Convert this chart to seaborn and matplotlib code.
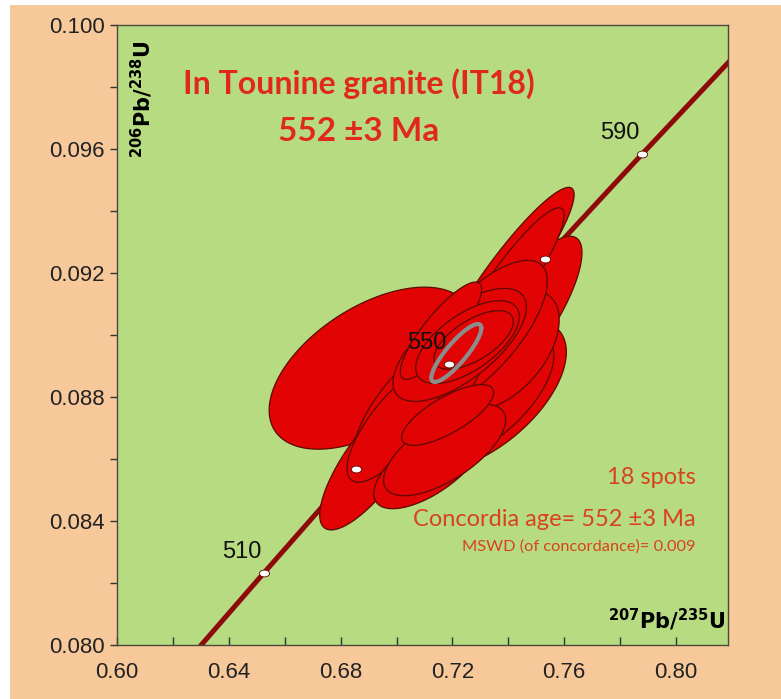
import numpy as np
import pandas as pd
import matplotlib
matplotlib.use("Agg")
import matplotlib.pyplot as plt
import seaborn as sns
from matplotlib.patches import Rectangle
from matplotlib.ticker import MultipleLocator
from matplotlib.markers import MarkerStyle
from matplotlib.transforms import Affine2D

# ---------------- data ----------------
# concordia ages (Ma) and ratios
conc_age = [490, 510, 530, 550, 570, 590, 610]
conc_x = [0.6202, 0.6526, 0.6854, 0.7189, 0.7531, 0.7879, 0.8235]   # 207Pb/235U
conc_y = [0.07897, 0.08233, 0.08569, 0.08906, 0.09245, 0.09584, 0.09925]  # 206Pb/238U
marker_ages = [510, 530, 550, 570, 590]
label_ages = [510, 550, 590]

# 18 spot error ellipses: centre, half extents in x / y, correlation
ell_cx = [0.6910, 0.7308, 0.7290, 0.6921, 0.7452, 0.7391, 0.7391, 0.7387,
          0.7290, 0.7082, 0.6993, 0.7226, 0.7159, 0.7118, 0.7172, 0.7183,
          0.7254, 0.7276]
ell_cy = [0.08893, 0.08806, 0.08800, 0.08600, 0.09052, 0.09181, 0.09148, 0.08952,
          0.08999, 0.08790, 0.08710, 0.08968, 0.09014, 0.08581, 0.08629, 0.08742,
          0.08977, 0.08984]
ell_ex = [0.03656, 0.02996, 0.02731, 0.01957, 0.02115, 0.02444, 0.02086, 0.01950,
          0.02494, 0.02351, 0.01699, 0.02387, 0.01455, 0.01993, 0.02183, 0.01645,
          0.01853, 0.01419]
ell_ey = [0.002613, 0.002439, 0.002207, 0.002287, 0.002665, 0.002952, 0.002623, 0.001920,
          0.002420, 0.002287, 0.001849, 0.001823, 0.001568, 0.001413, 0.001474, 0.000977,
          0.001336, 0.000945]
ell_rho = [0.52, 0.57, 0.61, 0.79, 0.80, 0.92, 0.91, 0.50,
           0.72, 0.73, 0.76, 0.67, 0.85, 0.66, 0.66, 0.74,
           0.62, 0.63]

# concordia age ellipse
age_cx, age_cy, age_ex, age_ey, age_rho = 0.7214, 0.08942, 0.00896, 0.000936, 0.86

title1 = "In Tounine granite (IT18)"
title2 = "552 \u00b13 Ma"
info1 = "18 spots"
info2 = "Concordia age= 552 \u00b13 Ma"
info3 = "MSWD (of concordance)= 0.009"

x_ticks = [0.60, 0.64, 0.68, 0.72, 0.76, 0.80]
y_ticks = [0.080, 0.084, 0.088, 0.092, 0.096, 0.100]

# ---------------- style ----------------
sns.set_theme(style="ticks")
plt.rcParams['font.family'] = ['Liberation Sans', 'DejaVu Sans']

PEACH = "#F6C89A"
GREEN = "#B7DB80"
RED = "#E20404"
EDGE = "#5A0A00"
LINE = "#8E0A0A"
TXT_RED = "#E0281C"
TXT_RED2 = "#D8421E"

fig = plt.figure(figsize=(7.81, 6.99), dpi=100)
fig.patch.set_facecolor("white")
fig.patches.append(Rectangle((10 / 781, 0), 1, 1 - 5 / 699, transform=fig.transFigure,
                             facecolor=PEACH, edgecolor="none", zorder=-10))
ax = fig.add_axes([117 / 781, 1 - 645 / 699, (728 - 117) / 781, (645 - 25) / 699])
ax.set_facecolor(GREEN)

# concordia curve
conc_df = pd.DataFrame({"age": conc_age, "x": conc_x, "y": conc_y})
sns.lineplot(data=conc_df, x="x", y="y", sort=False, color=LINE, lw=3.6, ax=ax, zorder=2)

# ellipses
t = np.linspace(0, 2 * np.pi, 200)
def ellipse_xy(cx, cy, ex, ey, rho):
    xs = cx + ex * np.cos(t)
    ys = cy + ey * (rho * np.cos(t) + np.sqrt(1 - rho ** 2) * np.sin(t))
    return xs, ys

for i in range(len(ell_cx)):
    xs, ys = ellipse_xy(ell_cx[i], ell_cy[i], ell_ex[i], ell_ey[i], ell_rho[i])
    ax.fill(xs, ys, facecolor=RED, edgecolor=EDGE, lw=0.9, zorder=3 + i * 0.01)

xs, ys = ellipse_xy(age_cx, age_cy, age_ex, age_ey, age_rho)
ax.plot(xs, ys, color="#8C8C8C", lw=3, zorder=4)

# age markers (slightly flattened white ellipses)
oval = MarkerStyle("o", transform=Affine2D().scale(1.35, 0.9))
mk = conc_df[conc_df["age"].isin(marker_ages)]
sns.scatterplot(data=mk, x="x", y="y", marker=oval, s=30, color="white",
                edgecolor=EDGE, linewidth=0.6, ax=ax, zorder=5)
for a in label_ages:
    r = conc_df[conc_df["age"] == a].iloc[0]
    ax.annotate(str(a), (r["x"], r["y"]), xytext=(-2, 7), textcoords="offset points",
                ha="right", va="bottom", fontsize=17, color="#111111", zorder=6)

# texts
ax.text(0.395, 0.905, title1, transform=ax.transAxes, ha="center", va="center",
        fontsize=23, fontweight="bold", color=TXT_RED, family=["Lato", "DejaVu Sans"])
ax.text(0.395, 0.828, title2, transform=ax.transAxes, ha="center", va="center",
        fontsize=24, fontweight="bold", color=TXT_RED, family=["Lato", "DejaVu Sans"])
ax.text(0.947, 0.270, info1, transform=ax.transAxes, ha="right", va="center",
        fontsize=17, color=TXT_RED2, family=["Lato", "DejaVu Sans"])
ax.text(0.947, 0.203, info2, transform=ax.transAxes, ha="right", va="center",
        fontsize=17, color=TXT_RED2, family=["Lato", "DejaVu Sans"])
ax.text(0.947, 0.158, info3, transform=ax.transAxes, ha="right", va="center",
        fontsize=11.8, color=TXT_RED2, family=["Lato", "DejaVu Sans"])

ax.text(0.04, 0.88, r"$\mathbf{^{206}Pb/^{238}U}$", transform=ax.transAxes, rotation=90,
        ha="center", va="center", fontsize=15, color="black")
ax.text(0.996, 0.04, r"$\mathbf{^{207}Pb/^{235}U}$", transform=ax.transAxes,
        ha="right", va="center", fontsize=15, color="black")

# axes
ax.set_xlim(0.60, 0.8186)
ax.set_ylim(0.080, 0.100)
ax.set_xticks(x_ticks)
ax.set_xticklabels([f"{v:.2f}" for v in x_ticks])
ax.set_yticks(y_ticks)
ax.set_yticklabels([f"{v:.3f}" for v in y_ticks])
ax.xaxis.set_minor_locator(MultipleLocator(0.02))
ax.yaxis.set_minor_locator(MultipleLocator(0.002))
ax.tick_params(axis="x", which="both", direction="in", length=6, width=1, colors="#333333",
               labelsize=16, labelcolor="#222222", pad=12)
ax.tick_params(axis="y", which="both", direction="out", length=5, width=1, colors="#333333",
               labelsize=16, labelcolor="#222222", pad=4)
ax.set_xlabel("")
ax.set_ylabel("")
for s in ax.spines.values():
    s.set_visible(True)
    s.set_color("#4a4a3a")
    s.set_linewidth(1)

fig.savefig("out.png", dpi=100)
